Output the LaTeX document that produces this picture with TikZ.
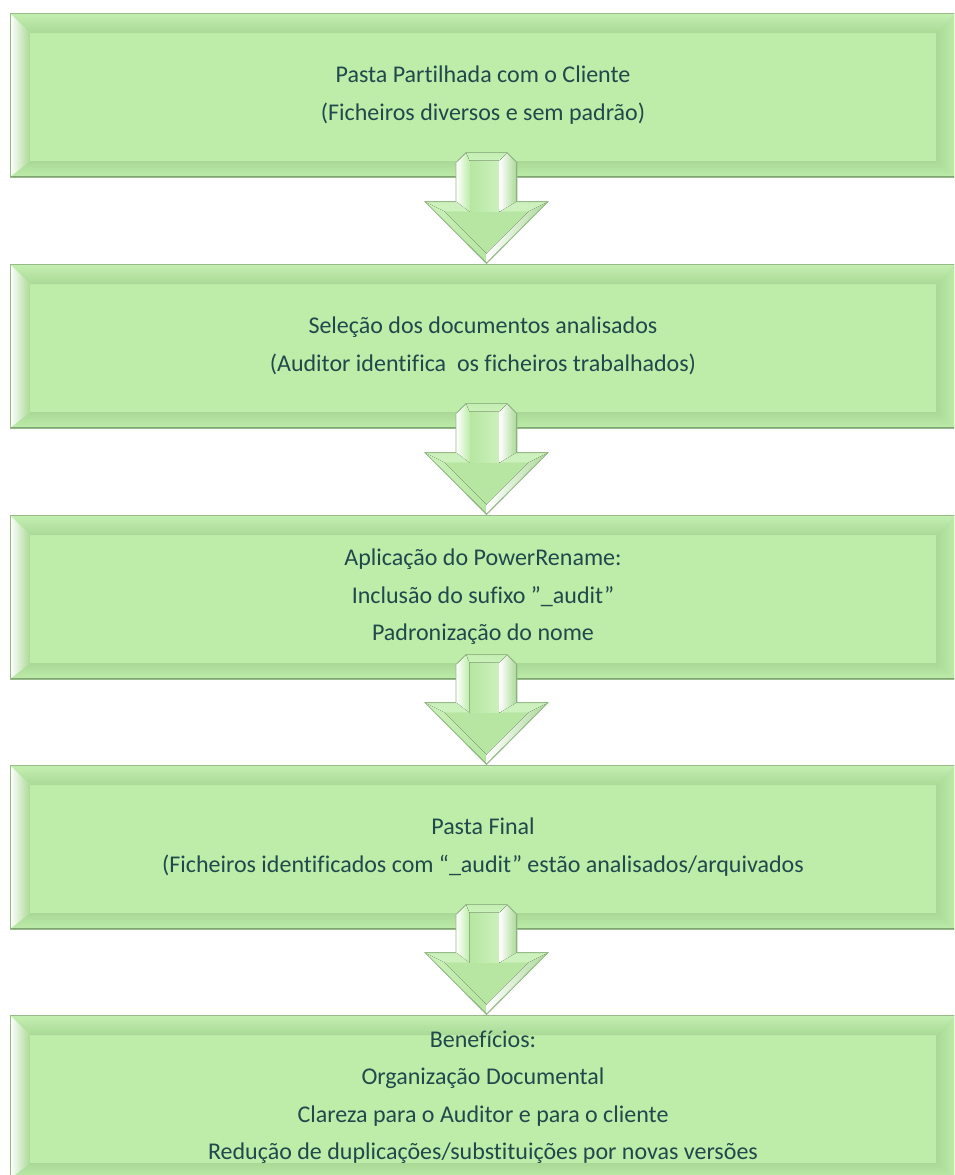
\documentclass[tikz,border=0pt]{standalone}
\usepackage{fontspec}
\setmainfont{Carlito}[Ligatures=CommonOff]
\usetikzlibrary{calc}

\definecolor{boxgreen}{RGB}{189,237,169}
\definecolor{toplight}{RGB}{196,239,178}
\definecolor{bevdark}{RGB}{170,217,151}
\definecolor{edgegreen}{RGB}{150,186,136}
\definecolor{shadegreen}{RGB}{128,164,116}
\definecolor{headin}{RGB}{182,230,162}
\definecolor{headout}{RGB}{204,241,188}
\definecolor{txt}{RGB}{34,72,76}

\tikzset{
  stepbox/.style={
    minimum width=946pt, minimum height=164pt, inner sep=0pt,
    fill=boxgreen, draw=edgegreen, line width=0.8pt, text=txt,
    align=center, font=\fontsize{24}{37.5}\selectfont,
    path picture={
      \coordinate (nw) at (path picture bounding box.north west);
      \coordinate (ne) at (path picture bounding box.north east);
      \coordinate (sw) at (path picture bounding box.south west);
      \coordinate (se) at (path picture bounding box.south east);
      % bevel facets
      \fill[top color=toplight, bottom color=bevdark]
        (nw) -- (ne) -- ($(ne)+(-20,20)$) -- ($(nw)+(20,20)$) -- cycle;
      \fill[top color=bevdark, bottom color=boxgreen]
        (sw) -- ($(sw)+(20,-16)$) -- ($(se)+(-20,-16)$) -- (se) -- cycle;
      \fill[left color=white, middle color=boxgreen, right color=bevdark]
        (nw) -- ($(nw)+(20,20)$) -- ($(sw)+(20,-16)$) -- (sw) -- cycle;
      \fill[left color=bevdark, middle color=white, right color=boxgreen]
        (ne) -- ($(ne)+(-20,20)$) -- ($(se)+(-20,-16)$) -- (se) -- cycle;
      % shadow line along the lower edge
      \draw[shadegreen, line width=3pt] (sw) -- (se);
    }
  },
  arrowbody/.style={fill=boxgreen, line join=miter},
  arrowline/.style={draw=edgegreen, line width=0.8pt, line join=miter}
}

% block arrow running from the lower edge of #1 to the upper edge of #2
\newcommand\flowarrow[2]{%
  \coordinate (s) at ($(#1.south)+(3.5,-25)$);
  \coordinate (t) at ($(#2.north)+(3.5,0)$);
  \coordinate (h) at ($(#2.north)+(3.5,-62)$);
  \fill[arrowbody]
    ($(s)+(-30.5,10)$) -- ($(s)+(-20.5,0)$) -- ($(s)+(20.5,0)$) -- ($(s)+(30.5,10)$)
    -- ($(h)+(30.5,0)$) -- ($(h)+(61.5,0)$) -- (t) -- ($(h)+(-61.5,0)$)
    -- ($(h)+(-30.5,0)$) -- cycle;
  % head facets
  \fill[headout] ($(h)+(-60,0.6)$) -- ($(h)+(60,0.6)$) -- ($(h)+(42,10)$) -- ($(h)+(-42,10)$) -- cycle;
  \fill[headin] ($(h)+(-42,10)$) -- ($(h)+(42,10)$) -- ($(t)+(0,-10)$) -- cycle;
  \fill[left color=headout, right color=headin]
    ($(h)+(-42,10)$) -- ($(h)+(-61,0.5)$) -- ($(t)+(0,-1)$) -- ($(t)+(0,-10)$) -- cycle;
  \fill[left color=white, right color=bevdark]
    ($(h)+(42,10)$) -- ($(h)+(61,0.5)$) -- ($(t)+(0,-1)$) -- ($(t)+(0,-10)$) -- cycle;
  % shaft facets
  \fill[left color=headin, right color=headout]
    ($(s)+(-17,8)$) -- ($(s)+(13,8)$) -- ($(h)+(13,10)$) -- ($(h)+(-17,10)$) -- cycle;
  \fill[left color=white, right color=boxgreen]
    ($(s)+(-30,10)$) -- ($(s)+(-20.2,0.6)$) -- ($(s)+(-17,8)$) -- ($(h)+(-17,10)$) -- ($(h)+(-30,0)$) -- cycle;
  \fill[left color=white, right color=bevdark]
    ($(s)+(30,10)$) -- ($(s)+(20.2,0.6)$) -- ($(s)+(13,8)$) -- ($(h)+(13,10)$) -- ($(h)+(30,0)$) -- cycle;
  \fill[top color=toplight, bottom color=headout]
    ($(s)+(-20.2,0.6)$) -- ($(s)+(20.2,0.6)$) -- ($(s)+(13,8)$) -- ($(s)+(-17,8)$) -- cycle;
  \draw[arrowline]
    ($(s)+(-30.5,10)$) -- ($(s)+(-20.5,0)$) -- ($(s)+(20.5,0)$) -- ($(s)+(30.5,10)$)
    -- ($(h)+(30.5,0)$) -- ($(h)+(61.5,0)$) -- (t) -- ($(h)+(-61.5,0)$)
    -- ($(h)+(-30.5,0)$) -- cycle;
}

\begin{document}
\begin{tikzpicture}[x=1pt, y=-1pt]
  \useasboundingbox (0,0) rectangle (954,1175);
  \clip (0,0) rectangle (954,1175);
  \fill[white] (0,0) rectangle (954,1175);

  \node[stepbox] (b1) at (483,95) {Pasta Partilhada com o Cliente\\(Ficheiros diversos e sem padrão)};
  \node[stepbox] (b2) at (483,346) {Seleção dos documentos analisados\\(Auditor identifica\ \ os ficheiros trabalhados)};
  \node[stepbox] (b3) at (483,597) {Aplicação do PowerRename:\\Inclusão do sufixo ”\_audit”\\Padronização do nome};
  \node[stepbox] (b4) at (483,847) {Pasta Final\\(Ficheiros identificados com “\_audit” estão analisados/arquivados};
  \node[stepbox] (b5) at (483,1097) {Benefícios:\\Organização Documental\\Clareza para o Auditor e para o cliente\\Redução de duplicações/substituições por novas versões};

  \flowarrow{b1}{b2}
  \flowarrow{b2}{b3}
  \flowarrow{b3}{b4}
  \flowarrow{b4}{b5}
\end{tikzpicture}
\end{document}
